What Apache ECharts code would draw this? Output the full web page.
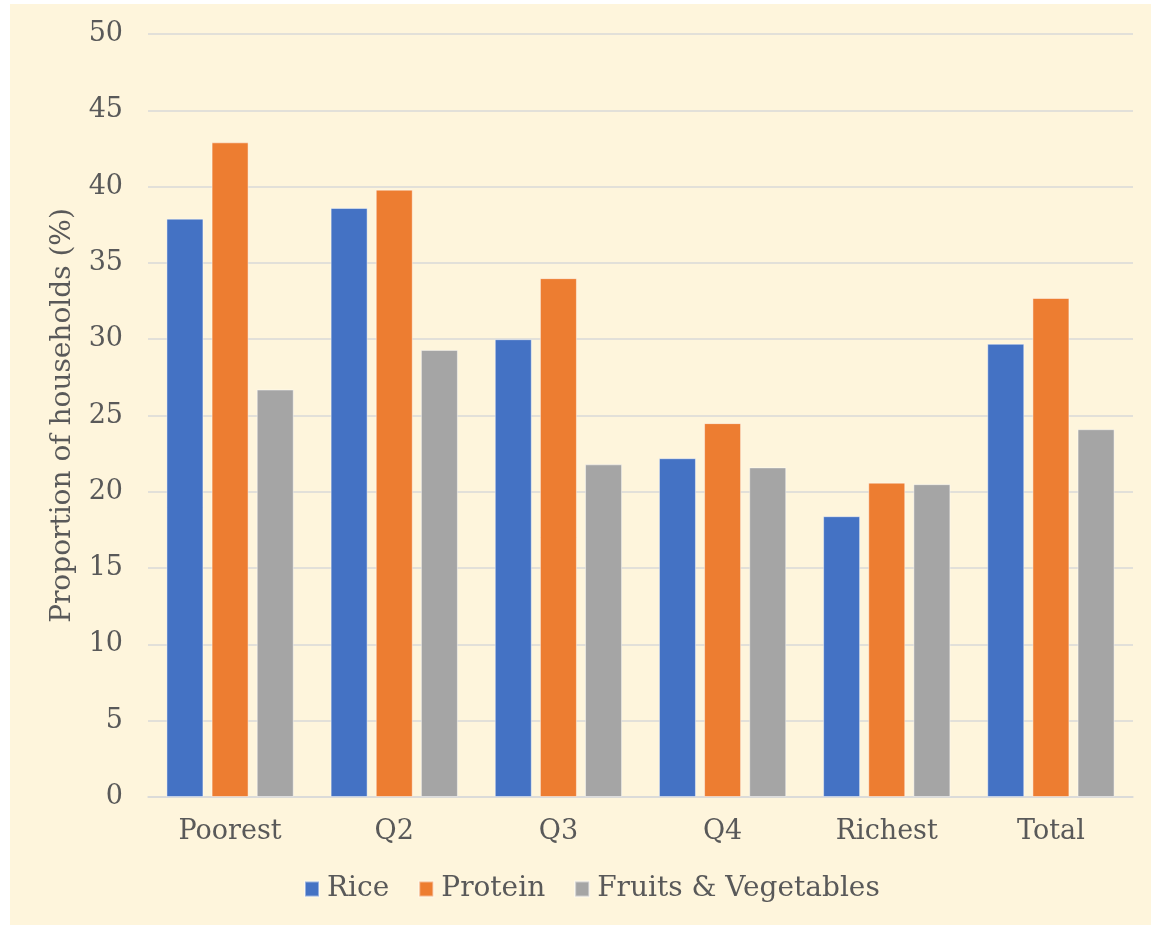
<!DOCTYPE html>
<html>
<head>
<meta charset="utf-8">
<title>Food insecurity by wealth quintile</title>
<script src="https://cdn.jsdelivr.net/npm/echarts@6/dist/echarts.min.js"></script>
<style>
  html, body { margin: 0; padding: 0; background: #ffffff; }
  #chart { position: absolute; left: 10px; top: 4px; width: 1141px; height: 921px; background: #FEF5DC; }
</style>
</head>
<body>
<div id="chart"></div>
<script>
// Wealth quintile groups and the share of households in each
const categories = ['Poorest', 'Q2', 'Q3', 'Q4', 'Richest', 'Total'];
const rice       = [37.9, 38.6, 30.0, 22.2, 18.4, 29.7];
const protein    = [42.9, 39.8, 34.0, 24.5, 20.6, 32.7];
const fruitsVeg  = [26.7, 29.3, 21.8, 21.6, 20.5, 24.1];

const FONT = '"DejaVu Serif", serif';
const TEXT = '#595959';
const SIZE = 27;

const chart = echarts.init(document.getElementById('chart'), null, { renderer: 'canvas' });

function barSeries(name, data, color) {
  return {
    name: name,
    type: 'bar',
    data: data,
    barWidth: 37,
    barGap: '22%',
    itemStyle: { color: color, borderColor: 'rgba(255,255,255,0.45)', borderWidth: 1 },
    emphasis: { disabled: true }
  };
}

chart.setOption({
  animation: false,
  backgroundColor: '#FEF5DC',
  textStyle: { fontFamily: FONT, color: TEXT },
  grid: { left: 138, right: 18, top: 30, bottom: 128, containLabel: false },
  legend: {
    bottom: 17,
    left: 289,
    itemWidth: 14,
    itemHeight: 15,
    itemGap: 29,
    icon: 'rect',
    textStyle: { fontFamily: FONT, fontSize: 28, color: TEXT, padding: [0, 0, 0, 3] },
    data: ['Rice', 'Protein', 'Fruits & Vegetables']
  },
  xAxis: {
    type: 'category',
    data: categories,
    axisLine: { lineStyle: { color: '#D9D9D9', width: 1.5 } },
    axisTick: { show: false },
    axisLabel: { fontFamily: FONT, fontSize: SIZE, color: TEXT, margin: 21 }
  },
  yAxis: {
    type: 'value',
    min: 0,
    max: 50,
    interval: 5,
    name: 'Proportion of households (%)',
    nameLocation: 'middle',
    nameRotate: 90,
    nameGap: 71,
    nameTextStyle: { fontFamily: FONT, fontSize: 28, color: TEXT },
    axisLine: { show: false },
    axisTick: { show: false },
    axisLabel: { fontFamily: FONT, fontSize: SIZE, color: TEXT, margin: 25 },
    splitLine: { lineStyle: { color: '#D9D9D9', width: 1.5 } }
  },
  series: [
    barSeries('Rice', rice, '#4472C4'),
    barSeries('Protein', protein, '#ED7D31'),
    barSeries('Fruits & Vegetables', fruitsVeg, '#A5A5A5')
  ]
});
</script>
</body>
</html>
